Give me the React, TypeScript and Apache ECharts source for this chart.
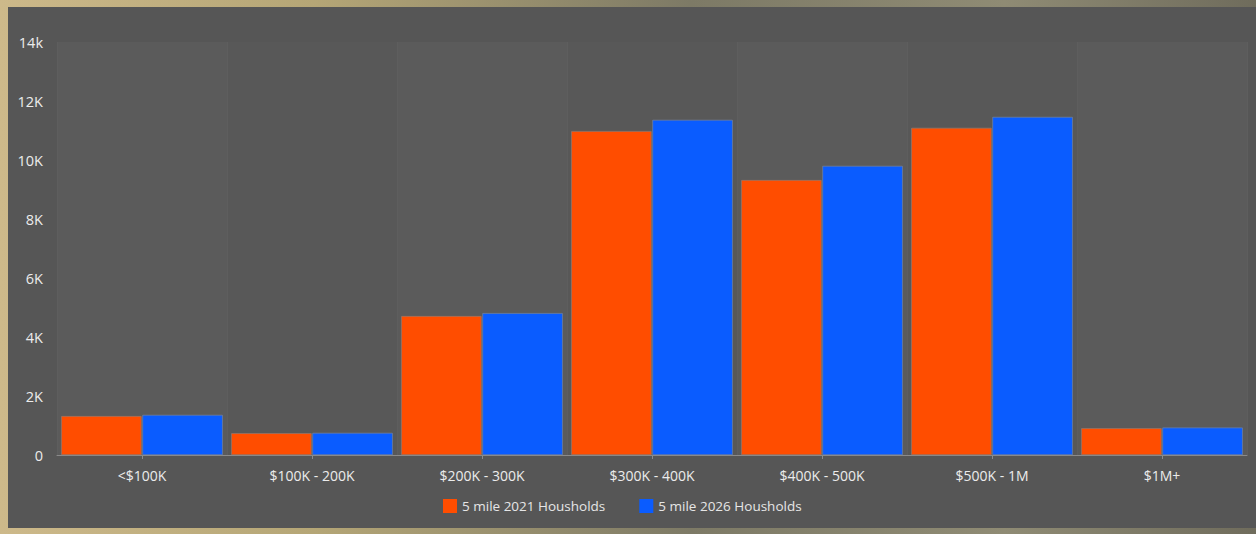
import React, { useEffect, useRef } from "react";
import * as echarts from "echarts";

const categories = ["<$100K", "$100K - 200K", "$200K - 300K", "$300K - 400K", "$400K - 500K", "$500K - 1M", "$1M+"];
const series2021 = [1320, 740, 4710, 10980, 9320, 11090, 910];
const series2026 = [1360, 750, 4810, 11360, 9800, 11460, 930];
const seriesNames = ["5 mile 2021 Housholds", "5 mile 2026 Housholds"];
const yTickLabels = ["0", "2K", "4K", "6K", "8K", "10K", "12K", "14k"];

export default function App() {
  const ref = useRef<HTMLDivElement>(null);
  useEffect(() => {
    const chart = echarts.init(ref.current!, null, { renderer: "svg" });
    const font = "'Open Sans', 'Noto Sans', sans-serif";
    chart.setOption({
      animation: false,
      backgroundColor: "transparent",
      textStyle: { fontFamily: font },
      grid: { left: 57, right: 9, top: 42, bottom: 79, containLabel: false },
      legend: {
        bottom: 16,
        left: 438,
        itemWidth: 14,
        itemHeight: 14,
        itemGap: 34,
        icon: "rect",
        itemStyle: { borderWidth: 0 },
        textStyle: { color: "#e6e6e6", fontSize: 13.5, fontFamily: font },
        data: seriesNames,
      },
      xAxis: {
        type: "category",
        data: categories,
        axisLine: { show: true, lineStyle: { color: "#8a8a8a", width: 1 } },
        axisTick: { show: true, alignWithLabel: true, length: 4, lineStyle: { color: "#8a8a8a" } },
        axisLabel: { color: "#ececec", fontSize: 14, margin: 13, fontFamily: font },
        splitLine: { show: true, lineStyle: { color: "#5e5e5e", width: 1 } },
        splitArea: { show: true, areaStyle: { color: ["#5b5b5b", "#585858"] } },
      },
      yAxis: {
        type: "value",
        min: 0,
        max: 14000,
        interval: 2000,
        axisLine: { show: false },
        axisTick: { show: false },
        splitLine: { show: false },
        axisLabel: {
          color: "#ececec",
          fontSize: 14.5,
          margin: 14,
          fontFamily: font,
          formatter: (v: number) => yTickLabels[Math.round(v / 2000)],
        },
      },
      series: [
        {
          name: seriesNames[0],
          type: "bar",
          data: series2021,
          barGap: "1%",
          barCategoryGap: "5%",
          itemStyle: { color: "#ff4d00", borderColor: "#8f7f78", borderWidth: 0.6 },
        },
        {
          name: seriesNames[1],
          type: "bar",
          data: series2026,
          barGap: "1%",
          barCategoryGap: "5%",
          itemStyle: { color: "#0a5cff", borderColor: "#7f8aa0", borderWidth: 0.6 },
        },
      ],
    });
    return () => chart.dispose();
  }, []);
  return (
    <div
      style={{
        position: "fixed",
        left: 0,
        top: 0,
        width: 1256,
        height: 534,
        background: "linear-gradient(90deg, #cdb98a 0%, #b5a676 25%, #7d7a66 55%, #8f8b74 80%, #6f6c5c 100%)",
      }}
    >
      <div
        style={{
          position: "absolute",
          left: 8,
          top: 7,
          width: 1248,
          height: 521,
          background: "#565656",
        }}
      />
      <div ref={ref} style={{ position: "absolute", left: 0, top: 0, width: 1256, height: 534 }} />
    </div>
  );
}
